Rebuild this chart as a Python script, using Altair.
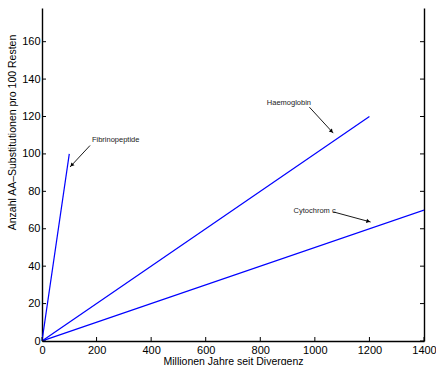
import math
import altair as alt
import pandas as pd

# ---- data ----
fib_x = [0, 100]
fib_y = [0, 100]
hb_x = [0, 1200]
hb_y = [0, 120]
cyt_x = [0, 1400]
cyt_y = [0, 70]

x_ticks = [0, 200, 400, 600, 800, 1000, 1200, 1400]
y_ticks = [0, 20, 40, 60, 80, 100, 120, 140, 160]

label_text = ["Fibrinopeptide", "Haemoglobin", "Cytochrom c"]
label_x = [183, 824, 922]
label_y = [107.2, 127.1, 69.3]

arrow_x0 = [176, 980, 1068]
arrow_y0 = [104.5, 125.0, 69.0]
arrow_x1 = [102.6, 1067.6, 1204.6]
arrow_y1 = [93.0, 111.1, 63.6]

# ---- layout ----
W, H = 382, 333
XMAX, YMAX = 1400, 178
kx, ky = W / XMAX, H / YMAX

xs = alt.Scale(domain=[0, XMAX], nice=False, zero=False)
ys = alt.Scale(domain=[0, YMAX], nice=False, zero=False)

lines = pd.DataFrame({
    "t": fib_x + hb_x + cyt_x,
    "s": fib_y + hb_y + cyt_y,
    "g": ["Fibrinopeptide"] * 2 + ["Haemoglobin"] * 2 + ["Cytochrom c"] * 2,
})

font = "Liberation Sans"

line_layer = alt.Chart(lines).mark_line(color="#0000ff", strokeWidth=1.2, clip=True).encode(
    x=alt.X("t:Q", scale=xs, title="Millionen Jahre seit Divergenz",
            axis=alt.Axis(values=x_ticks, ticks=False, labelPadding=3, titlePadding=1,
                          labelFontSize=11, titleFontSize=10.5, format="d", labelFlush=False)),
    y=alt.Y("s:Q", scale=ys, title="Anzahl AA\u2013Substitutionen pro 100 Resten",
            axis=alt.Axis(values=y_ticks, ticks=False, labelPadding=2,
                          labelFontSize=11, titleFontSize=10.5, format="d", labelFlush=False,
                          titleY=124, titleX=-25)),
    detail="g:N",
)

xt = pd.DataFrame({"v": x_ticks})
yt = pd.DataFrame({"v": y_ticks})

xtick_layer = alt.Chart(xt).mark_rule(color="black", strokeWidth=1).encode(
    x=alt.X("v:Q", scale=xs, axis=None), y=alt.value(H), y2=alt.value(H - 4))
ytick_left = alt.Chart(yt).mark_rule(color="black", strokeWidth=1).encode(
    y=alt.Y("v:Q", scale=ys, axis=None), x=alt.value(0), x2=alt.value(4))
ytick_right = alt.Chart(yt).mark_rule(color="black", strokeWidth=1).encode(
    y=alt.Y("v:Q", scale=ys, axis=alt.Axis(orient="right", labels=False, ticks=False, title=None,
                                           values=y_ticks)),
    x=alt.value(W), x2=alt.value(W - 4))

labels = pd.DataFrame({"txt": label_text, "x": label_x, "y": label_y})
text_layer = alt.Chart(labels).mark_text(align="left", baseline="middle", fontSize=7.5,
                                         font=font, color="#222").encode(
    x=alt.X("x:Q", scale=xs, axis=None), y=alt.Y("y:Q", scale=ys, axis=None), text="txt:N")

# arrows: shaft + triangular head
rows = []
for a, b, c, d in zip(arrow_x0, arrow_y0, arrow_x1, arrow_y1):
    dx = (c - a) * kx
    dy = -(d - b) * ky
    ang = math.degrees(math.atan2(dx, -dy)) % 360
    L = math.hypot(dx, dy)
    back = 2.5
    hx = c - dx / L * back / kx
    hy = d + dy / L * back / ky
    rows.append({"x0": a, "y0": b, "x1": c, "y1": d, "hx": hx, "hy": hy, "ang": ang})
arrows = pd.DataFrame(rows)

shaft = alt.Chart(arrows).mark_rule(color="black", strokeWidth=0.9).encode(
    x=alt.X("x0:Q", scale=xs, axis=None), y=alt.Y("y0:Q", scale=ys, axis=None),
    x2="x1:Q", y2="y1:Q")
head = alt.Chart(arrows).mark_point(shape="triangle-up", filled=True, color="black", size=18,
                                    opacity=1).encode(
    x=alt.X("hx:Q", scale=xs, axis=None), y=alt.Y("hy:Q", scale=ys, axis=None),
    angle=alt.Angle("ang:Q", scale=None))

chart = alt.layer(line_layer, xtick_layer, ytick_left, ytick_right, text_layer, shaft, head).resolve_axis(
    y="independent", x="independent"
).properties(
    width=W, height=H,
    background="white",
    autosize=alt.AutoSizeParams(type="none"),
    padding={"left": 42, "top": 8, "right": 12, "bottom": 24},
).configure_view(stroke=None).configure_axis(
    domainColor="black", domainWidth=1.4, labelColor="black", titleColor="black",
    labelFont=font, titleFont=font, titleFontWeight="normal", grid=False,
)

chart.save("out.html", embed_options={"renderer": "svg", "actions": False})
